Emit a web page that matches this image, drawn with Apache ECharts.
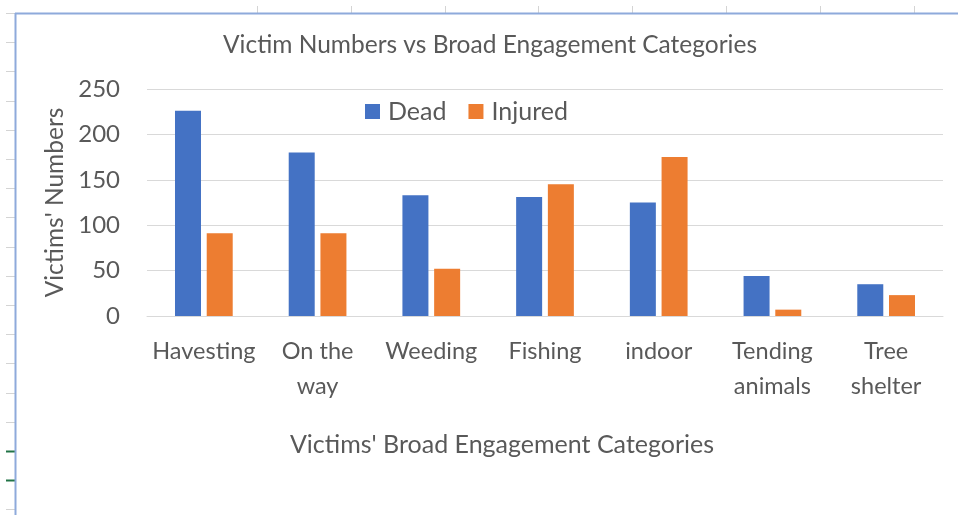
<!DOCTYPE html>
<html>
<head>
<meta charset="utf-8">
<script src="https://cdn.jsdelivr.net/npm/echarts@6/dist/echarts.min.js"></script>
<style>
  html, body { margin: 0; padding: 0; background: #fff; }
  #main { width: 958px; height: 515px; }
</style>
</head>
<body>
<div id="main"></div>
<script>
// categories and values
var categories = ['Havesting', 'On the\nway', 'Weeding', 'Fishing', 'indoor', 'Tending\nanimals', 'Tree\nshelter'];
var deadValues = [226, 180, 133, 131, 125, 44, 35];
var injuredValues = [91, 91, 52, 145, 175, 7, 23];
var yTicks = { min: 0, max: 250, interval: 50 };

var font = 'Lato, "Open Sans", sans-serif';
var textColor = '#595959';

// spreadsheet cell marks around the chart box
var deco = [];
for (var y = 13; y < 515; y += 29.2) {
    var green = Math.abs(y - 451) < 3 || Math.abs(y - 480) < 3;
    deco.push({
        type: 'line', silent: true,
        shape: { x1: 6, y1: Math.round(y) + 0.5, x2: 15, y2: Math.round(y) + 0.5 },
        style: { stroke: green ? '#217346' : '#d4d4d4', lineWidth: green ? 2 : 1 }
    });
}
for (var x = 257; x < 958; x += 93.8) {
    deco.push({
        type: 'line', silent: true,
        shape: { x1: Math.round(x) + 0.5, y1: 6, x2: Math.round(x) + 0.5, y2: 13 },
        style: { stroke: '#d4d4d4', lineWidth: 1 }
    });
}
// chart area border
deco.push({ type: 'line', silent: true, shape: { x1: 15.5, y1: 13, x2: 15.5, y2: 515 }, style: { stroke: '#8eaadb', lineWidth: 2 } });
deco.push({ type: 'line', silent: true, shape: { x1: 15, y1: 13.5, x2: 958, y2: 13.5 }, style: { stroke: '#8eaadb', lineWidth: 2 } });
// titles
deco.push({
    type: 'text', silent: true, x: 490, y: 45,
    style: { text: 'Victim Numbers vs Broad Engagement Categories', fill: textColor, font: '24.5px ' + font, align: 'center', verticalAlign: 'middle' }
});
deco.push({
    type: 'text', silent: true, x: 502, y: 445,
    style: { text: "Victims' Broad Engagement Categories", fill: textColor, font: '25px ' + font, align: 'center', verticalAlign: 'middle' }
});

var myChart = echarts.init(document.getElementById('main'));
var option = {
    backgroundColor: '#ffffff',
    animation: false,
    textStyle: { fontFamily: font },
    color: ['#4472c4', '#ed7d31'],
    graphic: deco,
    legend: {
        left: 360,
        top: 94,
        itemWidth: 15,
        itemHeight: 15,
        itemGap: 22,
        icon: 'rect',
        textStyle: { color: textColor, fontSize: 25, fontFamily: font, padding: [0, 0, 0, 3] },
        data: ['Dead', 'Injured']
    },
    grid: { left: 147, right: 15, top: 89, bottom: 199 },
    xAxis: {
        type: 'category',
        data: categories,
        axisLine: { lineStyle: { color: '#d9d9d9' } },
        axisTick: { show: false },
        axisLabel: {
            color: textColor, fontSize: 23.5, fontFamily: font,
            margin: 18, lineHeight: 35, interval: 0
        }
    },
    yAxis: {
        type: 'value',
        min: yTicks.min,
        max: yTicks.max,
        interval: yTicks.interval,
        name: "Victims' Numbers",
        nameLocation: 'middle',
        nameGap: 68,
        nameTextStyle: { color: textColor, fontSize: 24.5, fontFamily: font },
        axisLine: { show: false },
        axisTick: { show: false },
        axisLabel: { color: textColor, fontSize: 24, fontFamily: font, margin: 27 },
        splitLine: { lineStyle: { color: '#d9d9d9', width: 1 } }
    },
    series: [{
        name: 'Dead',
        type: 'bar',
        barWidth: 26,
        barGap: '22%',
        data: deadValues
    }, {
        name: 'Injured',
        type: 'bar',
        barWidth: 26,
        barGap: '22%',
        data: injuredValues
    }]
};
myChart.setOption(option);
</script>
</body>
</html>
